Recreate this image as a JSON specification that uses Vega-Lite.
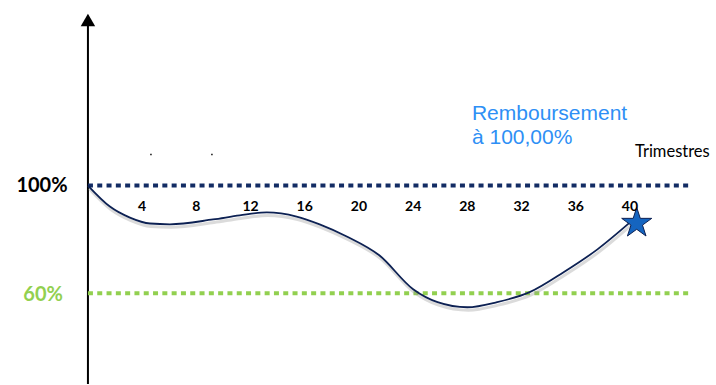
{
  "$schema": "https://vega.github.io/schema/vega-lite/v6.json",
  "width": 716,
  "height": 385,
  "autosize": {"type": "fit", "contains": "padding"},
  "padding": 0,
  "background": "white",
  "config": {"view": {"stroke": null}},
  "datasets": {
    "curve": [
      {"q": 0, "v": 100},
      {"q": 1.62, "v": 92.2},
      {"q": 3.1, "v": 88.1},
      {"q": 4.58, "v": 85.9},
      {"q": 6.05, "v": 85.6},
      {"q": 9.23, "v": 87.4},
      {"q": 11.2, "v": 88.9},
      {"q": 13.2, "v": 90.0},
      {"q": 15.4, "v": 88.5},
      {"q": 17.1, "v": 85.6},
      {"q": 19.1, "v": 81.1},
      {"q": 21.5, "v": 74.1},
      {"q": 24.0, "v": 61.5},
      {"q": 25.8, "v": 56.7},
      {"q": 28.0, "v": 54.8},
      {"q": 30.2, "v": 56.7},
      {"q": 32.6, "v": 60.4},
      {"q": 35.1, "v": 67.8},
      {"q": 37.6, "v": 76.3},
      {"q": 40.0, "v": 86.3}
    ],
    "ticks": [
      {"q": 4, "label": "4"}, {"q": 8, "label": "8"}, {"q": 12, "label": "12"},
      {"q": 16, "label": "16"}, {"q": 20, "label": "20"}, {"q": 24, "label": "24"},
      {"q": 28, "label": "28"}, {"q": 32, "label": "32"}, {"q": 36, "label": "36"},
      {"q": 40, "label": "40"}
    ]
  },
  "layer": [
    {
      "data": {"values": [{"q": 0, "v": 26.3, "v2": 160}]},
      "mark": {"type": "rule", "color": "black", "strokeWidth": 2},
      "encoding": {
        "x": {"field": "q", "type": "quantitative", "scale": {"domain": [-6.49, 46.35], "nice": false, "zero": false}, "axis": null},
        "y": {"field": "v", "type": "quantitative", "scale": {"domain": [26.3, 168.9], "nice": false, "zero": false}, "axis": null},
        "y2": {"field": "v2"}
      }
    },
    {
      "data": {"values": [{"q": 0, "v": 161.5}]},
      "mark": {"type": "point", "shape": "triangle-up", "filled": true, "color": "black", "size": 210, "opacity": 1},
      "encoding": {
        "x": {"field": "q", "type": "quantitative"},
        "y": {"field": "v", "type": "quantitative"}
      }
    },
    {
      "data": {"values": [{"q": 0, "v": 100, "q2": 44.4}]},
      "mark": {"type": "rule", "color": "#132c64", "strokeWidth": 4, "strokeDash": [5, 4.3]},
      "encoding": {
        "x": {"field": "q", "type": "quantitative"},
        "x2": {"field": "q2"},
        "y": {"field": "v", "type": "quantitative"}
      }
    },
    {
      "data": {"values": [{"q": 0, "v": 60, "q2": 44.4}]},
      "mark": {"type": "rule", "color": "#92d050", "strokeWidth": 4, "strokeDash": [5, 4.3]},
      "encoding": {
        "x": {"field": "q", "type": "quantitative"},
        "x2": {"field": "q2"},
        "y": {"field": "v", "type": "quantitative"}
      }
    },
    {
      "data": {"name": "curve"},
      "mark": {"type": "line", "interpolate": "monotone", "color": "#999999", "opacity": 0.35, "strokeWidth": 3, "yOffset": 3, "xOffset": 1},
      "encoding": {
        "x": {"field": "q", "type": "quantitative"},
        "y": {"field": "v", "type": "quantitative"}
      }
    },
    {
      "data": {"name": "curve"},
      "mark": {"type": "line", "interpolate": "monotone", "color": "#0d2153", "strokeWidth": 1.8},
      "encoding": {
        "x": {"field": "q", "type": "quantitative"},
        "y": {"field": "v", "type": "quantitative"}
      }
    },
    {
      "data": {"values": [{"q": 40.5, "v": 86.0}]},
      "mark": {"type": "point", "shape": "M0,-1L0.2245,-0.309L0.9511,-0.309L0.3633,0.118L0.5878,0.809L0,0.382L-0.5878,0.809L-0.3633,0.118L-0.9511,-0.309L-0.2245,-0.309Z", "filled": true, "color": "#1565c0", "stroke": "#0d2153", "strokeWidth": 1, "size": 1000, "opacity": 1},
      "encoding": {
        "x": {"field": "q", "type": "quantitative"},
        "y": {"field": "v", "type": "quantitative"}
      }
    },
    {
      "data": {"name": "ticks"},
      "mark": {"type": "text", "font": "Lato", "fontWeight": "bold", "fontSize": 14, "color": "black", "align": "center", "baseline": "middle"},
      "encoding": {
        "x": {"field": "q", "type": "quantitative"},
        "y": {"datum": 92.2, "type": "quantitative"},
        "text": {"field": "label"}
      }
    },
    {
      "data": {"values": [{"q": -1.5, "v": 100, "label": "100%"}]},
      "mark": {"type": "text", "font": "Lato", "fontWeight": "bold", "fontSize": 20, "color": "black", "align": "right", "baseline": "middle"},
      "encoding": {
        "x": {"field": "q", "type": "quantitative"},
        "y": {"field": "v", "type": "quantitative"},
        "text": {"field": "label"}
      }
    },
    {
      "data": {"values": [{"q": -1.85, "v": 59.3, "label": "60%"}]},
      "mark": {"type": "text", "font": "Lato", "fontWeight": "bold", "fontSize": 20, "color": "#92d050", "align": "right", "baseline": "middle"},
      "encoding": {
        "x": {"field": "q", "type": "quantitative"},
        "y": {"field": "v", "type": "quantitative"},
        "text": {"field": "label"}
      }
    },
    {
      "data": {"values": [{"q": 28.34, "v": 126.5, "label": "Remboursement"}, {"q": 28.34, "v": 117.8, "label": "à 100,00%"}]},
      "mark": {"type": "text", "font": "Liberation Sans", "fontSize": 21, "color": "#2e8ff5", "align": "left", "baseline": "middle"},
      "encoding": {
        "x": {"field": "q", "type": "quantitative"},
        "y": {"field": "v", "type": "quantitative"},
        "text": {"field": "label"}
      }
    },
    {
      "data": {"values": [{"q": 40.37, "v": 112.4, "label": "Trimestres"}]},
      "mark": {"type": "text", "font": "Lato", "fontSize": 16.5, "color": "black", "align": "left", "baseline": "middle"},
      "encoding": {
        "x": {"field": "q", "type": "quantitative"},
        "y": {"field": "v", "type": "quantitative"},
        "text": {"field": "label"}
      }
    },
    {
      "data": {"values": [{"q": 4.65, "v": 111.5}, {"q": 9.15, "v": 111.5}]},
      "mark": {"type": "square", "color": "black", "size": 2, "opacity": 1},
      "encoding": {
        "x": {"field": "q", "type": "quantitative"},
        "y": {"field": "v", "type": "quantitative"}
      }
    }
  ]
}
